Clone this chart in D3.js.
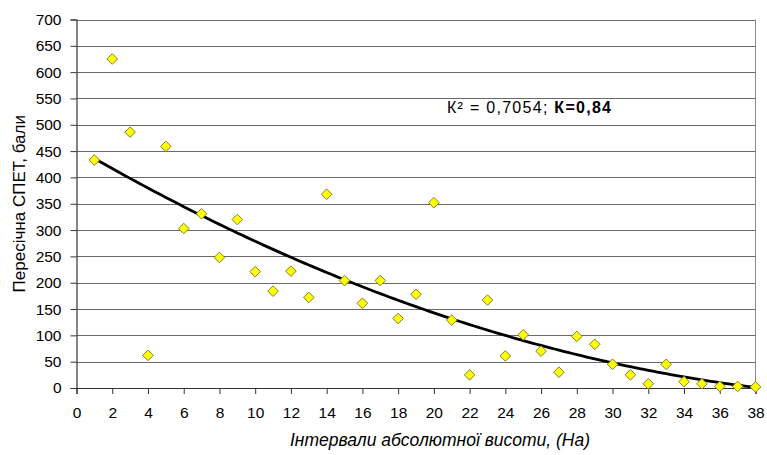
<!DOCTYPE html>
<html><head><meta charset="utf-8">
<script src="https://cdn.jsdelivr.net/npm/d3@7"></script>
<style>
html,body{margin:0;padding:0;background:#fff;}
svg{display:block;font-family:"Liberation Sans",Arial,sans-serif;}
</style></head>
<body>
<svg id="chart" width="767" height="455"></svg>
<script>
const xValues = [1,2,3,4,5,6,7,8,9,10,11,12,13,14,15,16,17,18,19,20,21,22,23,24,25,26,27,28,29,30,31,32,33,34,35,36,37,38];
const yValues = [433,625,486,62,459,303,331,248,320,221,184,222,172,368,204,161,204,132,178,352,129,25,167,61,101,70,30,98,83,45,25,8,45,12,8,3,3,2];
const xTicks = d3.range(0, 39, 2);
const yTicks = d3.range(0, 701, 50);
const xTitle = "Інтервали абсолютної висоти, (На)";
const yTitle = "Пересічна СПЕТ, бали";
const annotation = ["К² = 0,7054; ", "К=0,84"];

const svg = d3.select("#chart");
const L = 76.5, R = 755.5, T = 19.5, B = 388;
const x = d3.scaleLinear().domain([0, 38]).range([L, R]);
const y = d3.scaleLinear().domain([0, 700]).range([B, T]);

// gridlines
svg.append("g").selectAll("line").data(yTicks.filter(d => d > 0)).join("line")
  .attr("x1", L).attr("x2", R)
  .attr("y1", d => Math.round(y(d)) + 0.5).attr("y2", d => Math.round(y(d)) + 0.5)
  .attr("stroke", "#6a6a6a").attr("stroke-width", 1);
// right border
svg.append("line").attr("x1", R).attr("x2", R).attr("y1", T).attr("y2", B)
  .attr("stroke", "#8c8c8c").attr("stroke-width", 1);

// y axis
const yAxis = d3.axisLeft(y).tickValues(yTicks).tickSize(6).tickPadding(9).tickFormat(d3.format("d"));
const gy = svg.append("g").attr("transform", `translate(${L},0)`).call(yAxis);
gy.select(".domain").attr("stroke", "#333").attr("stroke-width", 1.2);
gy.selectAll(".tick line").attr("stroke", "#333");
gy.selectAll("text").attr("font-size", 15.5).attr("fill", "#000")
  .attr("font-family", "Liberation Sans, Arial, sans-serif");

// x axis
const xAxis = d3.axisBottom(x).tickValues(xTicks).tickSize(6).tickPadding(13).tickFormat(d3.format("d"));
const gx = svg.append("g").attr("transform", `translate(0,${B})`).call(xAxis);
gx.select(".domain").attr("stroke", "#333").attr("stroke-width", 1.2);
gx.selectAll(".tick line").attr("stroke", "#333");
gx.selectAll("text").attr("font-size", 15.5).attr("fill", "#000")
  .attr("font-family", "Liberation Sans, Arial, sans-serif");

// quadratic least-squares trend
function polyfit2(xs, ys) {
  const n = xs.length;
  let s = [0,0,0,0,0], t = [0,0,0];
  for (let i = 0; i < n; i++) {
    const xi = xs[i], yi = ys[i];
    for (let k = 0; k < 5; k++) s[k] += Math.pow(xi, k);
    for (let k = 0; k < 3; k++) t[k] += yi * Math.pow(xi, k);
  }
  const M = [[s[0],s[1],s[2],t[0]],[s[1],s[2],s[3],t[1]],[s[2],s[3],s[4],t[2]]];
  for (let i = 0; i < 3; i++) {
    let p = i; for (let r = i+1; r < 3; r++) if (Math.abs(M[r][i]) > Math.abs(M[p][i])) p = r;
    [M[i], M[p]] = [M[p], M[i]];
    for (let r = 0; r < 3; r++) if (r !== i) {
      const f = M[r][i] / M[i][i];
      for (let c = i; c < 4; c++) M[r][c] -= f * M[i][c];
    }
  }
  return [M[0][3]/M[0][0], M[1][3]/M[1][1], M[2][3]/M[2][2]];
}
const coef = polyfit2(xValues, yValues);
const trend = d3.range(1, 38.001, 0.25).map(v => [v, coef[0] + coef[1]*v + coef[2]*v*v]);
svg.append("path").datum(trend)
  .attr("d", d3.line().x(d => x(d[0])).y(d => y(d[1])).curve(d3.curveMonotoneX))
  .attr("fill", "none").attr("stroke", "#000").attr("stroke-width", 2.8);

// points
const sym = d3.symbol().type(d3.symbolDiamond2).size(72);
svg.append("g").selectAll("path").data(xValues.map((v, i) => [v, yValues[i]])).join("path")
  .attr("d", sym)
  .attr("transform", d => `translate(${x(d[0])},${y(d[1])})`)
  .attr("fill", "#ffff00").attr("stroke", "#7f7f3a").attr("stroke-width", 1);

// annotation
const ann = svg.append("text").attr("x", 447).attr("y", 112.5)
  .attr("font-size", 16).attr("fill", "#000")
  .attr("textLength", 164).attr("lengthAdjust", "spacing");
ann.append("tspan").text(annotation[0]);
ann.append("tspan").attr("font-weight", "bold").text(annotation[1]);

// titles
svg.append("text").attr("transform", `translate(25,${(T+B)/2}) rotate(-90)`)
  .attr("text-anchor", "middle").attr("font-size", 17).attr("fill", "#000").text(yTitle);
svg.append("text").attr("x", 440).attr("y", 446)
  .attr("text-anchor", "middle").attr("font-size", 17.5).attr("font-style", "italic")
  .attr("fill", "#000").text(xTitle);
</script>
</body></html>
